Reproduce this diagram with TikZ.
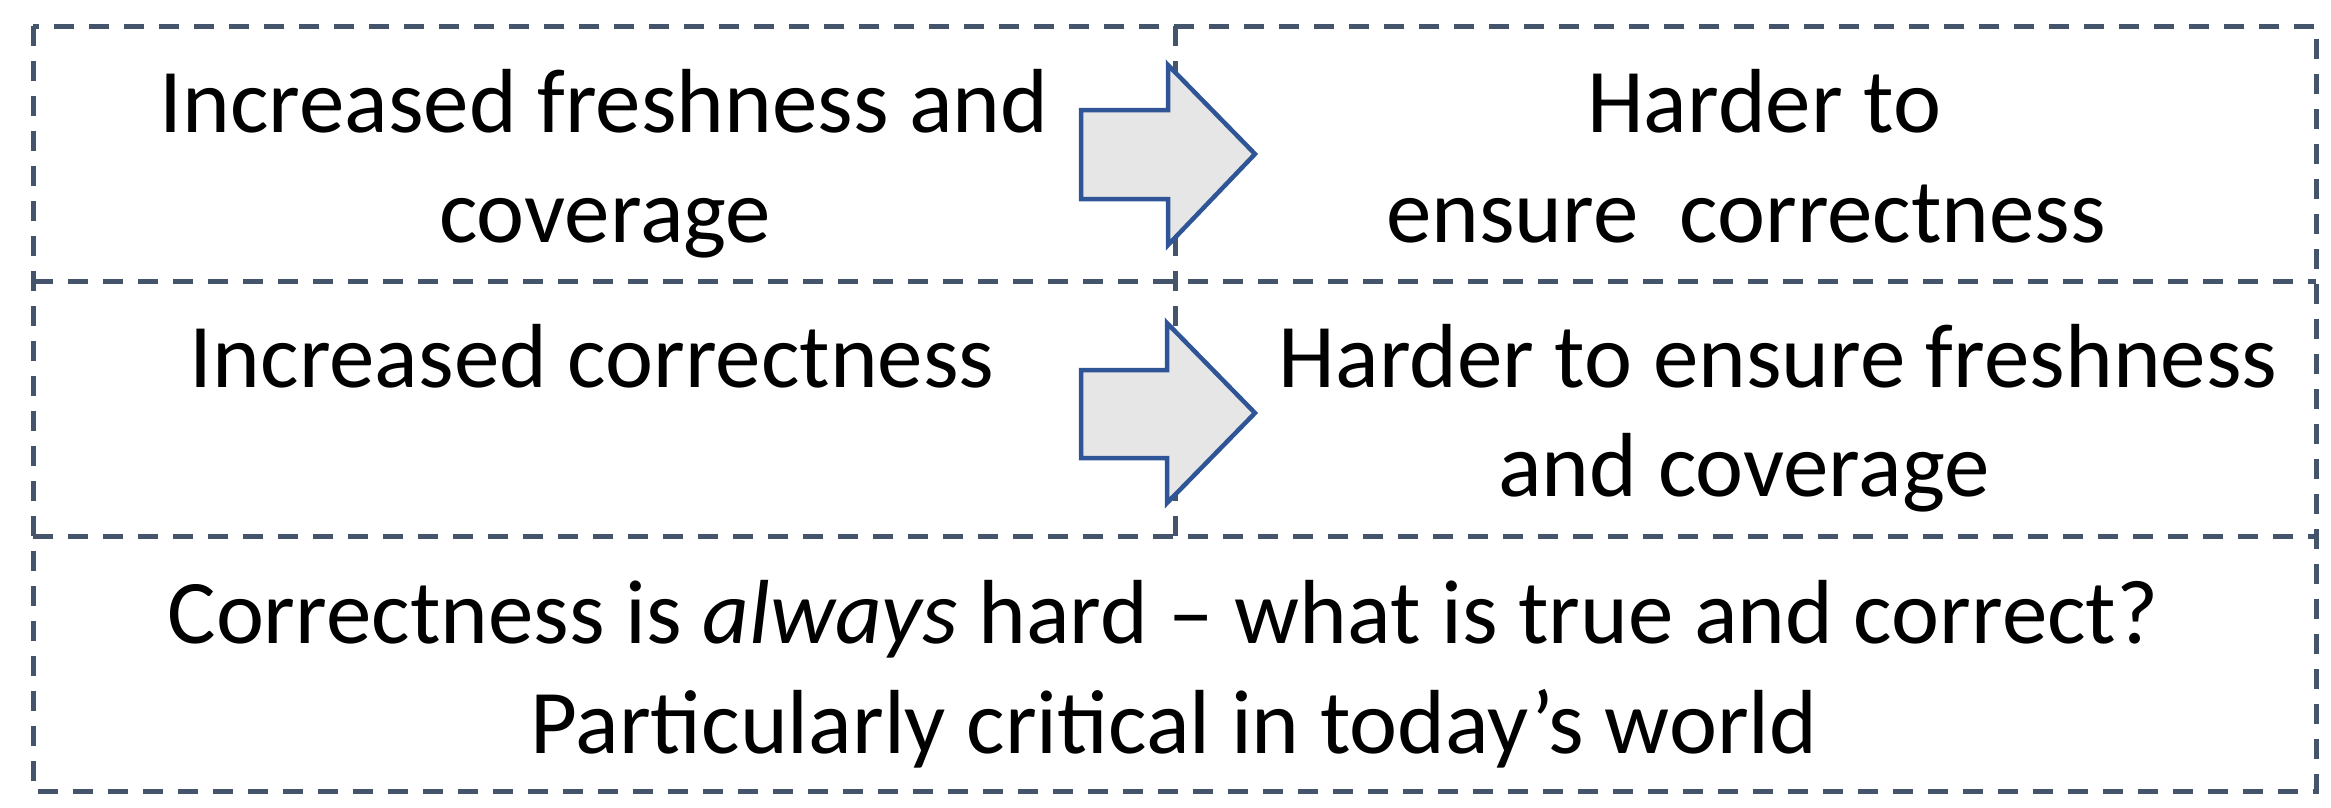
\documentclass[tikz,border=0pt]{standalone}
\usepackage{fontspec}
\setmainfont{Carlito}
\definecolor{gridcol}{HTML}{44546A}
\definecolor{arrowline}{HTML}{2F5597}
\definecolor{arrowfill}{HTML}{E7E6E6}
\begin{document}
\begin{tikzpicture}[x=1pt,y=-1pt,
  gridline/.style={draw=gridcol,line width=5pt,dash pattern=on 20pt off 15pt},
  bigarrow/.style={draw=arrowline,fill=arrowfill,line width=4.5pt,line join=miter},
  txt/.style={inner sep=0pt,anchor=base,font=\fontsize{91}{110}\selectfont}]
\useasboundingbox (0,0) rectangle (2331,807);
% grid
\draw[gridline] (33,26) rectangle (2316,791);
\draw[gridline] (33,281) -- (2316,281);
\draw[gridline] (33,536) -- (2316,536);
\draw[gridline] (1175,26) -- (1175,536);
% arrows
\draw[bigarrow] (1081,110) -- (1168,110) -- (1168,65) -- (1255,154) -- (1168,245) -- (1168,199) -- (1081,199) -- cycle;
\draw[bigarrow] (1081,370) -- (1167,370) -- (1167,323) -- (1255,413) -- (1167,503) -- (1167,458) -- (1081,458) -- cycle;
% texts
\node[txt] (a1) at (604,132) {Increased freshness and};
\node[txt] (a2) at (605,242) {coverage};
\node[txt] (b1) at (1764,132) {Harder to};
\node[txt] (b2) at (1746,242) {ensure\ \ correctness};
\node[txt] (c1) at (592,387) {Increased correctness};
\node[txt] (d1) at (1778,387) {Harder to ensure freshness};
\node[txt] (d2) at (1744,496) {and coverage};
\node[txt] (e1) at (1163,643) {Correctness is \textit{always} hard – what is true and correct?};
\node[txt] (e2) at (1174,753) {Particularly critical in today’s world};
\end{tikzpicture}
\end{document}
